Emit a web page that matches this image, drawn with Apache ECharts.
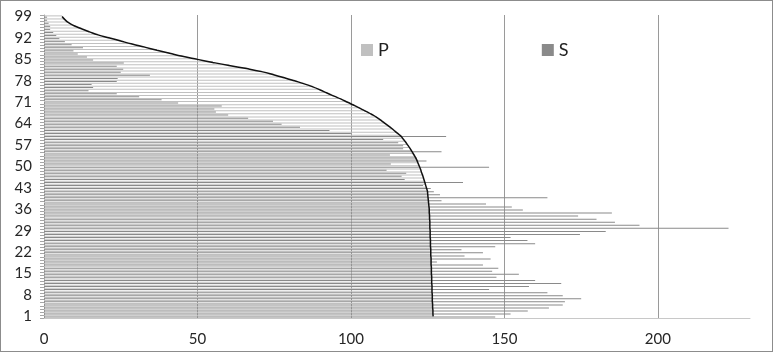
<!DOCTYPE html>
<html>
<head>
<meta charset="utf-8">
<script src="https://cdn.jsdelivr.net/npm/echarts@6/dist/echarts.min.js"></script>
<style>
html,body{margin:0;padding:0;background:#fff;}
#c{width:773px;height:352px;position:absolute;left:0;top:0;}
#b{position:absolute;left:0;top:0;width:773px;height:352px;box-sizing:border-box;border:1px solid #8c8c8c;pointer-events:none;}
</style>
</head>
<body>
<div id="c"></div>
<div id="b"></div>
<script>
// categories 1..99
const categories = ["1","2","3","4","5","6","7","8","9","10","11","12","13","14","15","16","17","18","19","20",
"21","22","23","24","25","26","27","28","29","30","31","32","33","34","35","36","37","38","39","40",
"41","42","43","44","45","46","47","48","49","50","51","52","53","54","55","56","57","58","59","60",
"61","62","63","64","65","66","67","68","69","70","71","72","73","74","75","76","77","78","79","80",
"81","82","83","84","85","86","87","88","89","90","91","92","93","94","95","96","97","98","99"];

const pValues = [126.8,126.7,126.7,126.6,126.6,126.5,126.5,126.5,126.4,126.4,
126.4,126.3,126.3,126.3,126.2,126.2,126.2,126.1,126.1,126.1,
126.0,126.0,126.0,125.9,125.9,125.9,125.8,125.8,125.8,125.7,
125.7,125.7,125.6,125.6,125.5,125.5,125.4,125.3,125.2,125.1,
125.0,124.9,124.6,124.3,124.0,123.7,123.4,123.0,122.7,122.3,
121.9,121.5,121.0,120.4,119.8,119.2,118.5,117.8,117.0,116.2,
115.0,113.8,112.5,111.2,109.9,108.5,106.8,104.9,103.0,101.0,
98.9,96.8,94.5,92.2,90.0,87.6,84.8,81.6,78.3,74.8,
70.9,66.0,60.3,55.0,50.0,45.1,40.9,36.8,32.8,28.7,
25.0,21.4,17.6,14.8,12.2,9.8,8.0,6.8,5.9];

const sValues = [147,152,157.6,164.5,169,169.7,175,169,164,145,
158,168.5,160,147.4,154.7,146,148,143,128,145.5,
137,143,136,147,160,157.5,152,174.6,183,223,
194,186,180,174,185,156,152.4,144,129.5,164,
129,127,126,123.5,136.5,117.5,116.5,118,111.6,145,
113,124.6,121.4,112.7,129.5,117,117,115.4,110.5,131,
100,93,83.4,77.4,74.6,66.5,60,56,55.5,57.9,
43.7,38.3,31,23.7,14.5,16,15.5,23.7,24,34.5,
25,25.8,23.7,26,16,14,11,9.6,12.7,9,
6.8,5,4,3,2,2,1.5,1,1];

const xTicks = [0,50,100,150,200];

const FONT = 'Lato, "Open Sans", sans-serif';
const chart = echarts.init(document.getElementById('c'), null, {renderer:'canvas'});
chart.setOption({
  animation:false,
  backgroundColor:'#fff',
  grid:{left:44,right:23,top:15,bottom:34,containLabel:false},
  legend:{
    data:['P','S'],
    left:356, top:36,
    icon:'rect', itemWidth:12, itemHeight:12, itemGap:153,
    textStyle:{fontSize:18,color:'#222',fontFamily:FONT}
  },
  xAxis:{
    type:'value', min:xTicks[0], max:230, interval:50,
    axisLine:{show:true,lineStyle:{color:'#c8c8c8',width:1}},
    axisTick:{show:false},
    axisLabel:{color:'#262626',fontSize:15,fontFamily:FONT,margin:14,showMaxLabel:false},
    splitLine:{show:true,showMaxLine:false,lineStyle:{color:'#9a9a9a',width:1}}
  },
  yAxis:{
    type:'category', data:categories,
    axisLine:{show:true,lineStyle:{color:'#9a9a9a'}},
    axisTick:{show:true,interval:0,length:4,lineStyle:{color:'#a6a6a6'}},
    axisLabel:{interval:6,color:'#262626',fontSize:15,fontFamily:FONT,margin:12}
  },
  series:[
    {name:'P',type:'bar',data:pValues,itemStyle:{color:'#c0c0c0'},barGap:'30%',barCategoryGap:'25%',z:2},
    {name:'S',type:'bar',data:sValues,itemStyle:{color:'#8a8a8a'},z:2},
    {name:'curve',type:'line',data:pValues,smooth:true,showSymbol:false,symbol:'none',
     lineStyle:{color:'#111',width:1.5},z:5}
  ]
});
</script>
</body>
</html>
